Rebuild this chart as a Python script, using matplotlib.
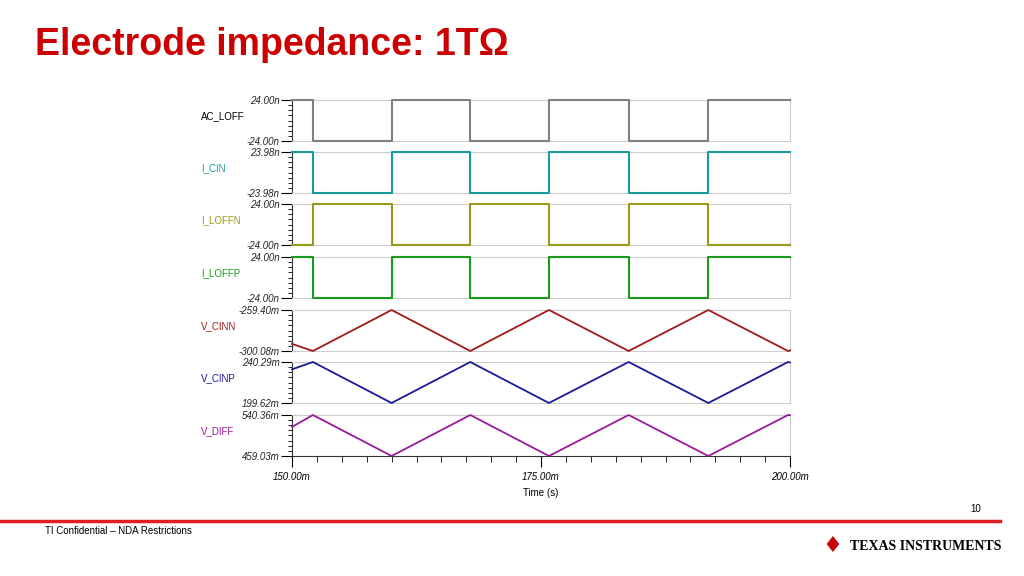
import matplotlib
matplotlib.use("Agg")
import matplotlib.pyplot as plt
import numpy as np

plt.rcParams['font.family'] = ['Liberation Sans', 'DejaVu Sans']

edges = [150.0, 152.1, 160.0, 167.9, 175.8, 183.8, 191.8, 199.8, 200.0]
names = ["AC_LOFF", "I_CIN", "I_LOFFN", "I_LOFFP", "V_CINN", "V_CINP", "V_DIFF"]
colors = ["#808080", "#1a9a9a", "#9a9a1a", "#1a9a1a", "#a01a1a", "#1a1a9a", "#9a1a9a"]
label_colors = ["#000000", "#1a9a9a", "#9a9a1a", "#1a9a1a", "#a01a1a", "#1a1a9a", "#9a1a9a"]
lows = [-24.00, -23.98, -24.00, -24.00, -300.08, 199.62, 459.03]
highs = [24.00, 23.98, 24.00, 24.00, -259.40, 240.29, 540.36]
tick_lo = ["-24.00n", "-23.98n", "-24.00n", "-24.00n", "-300.08m", "199.62m", "459.03m"]
tick_hi = ["24.00n", "23.98n", "24.00n", "24.00n", "-259.40m", "240.29m", "540.36m"]
sq_levels = {
    "AC_LOFF": [24, -24, 24, -24, 24, -24, 24, 24],
    "I_CIN": [23.98, -23.98, 23.98, -23.98, 23.98, -23.98, 23.98, 23.98],
    "I_LOFFN": [-24, 24, -24, 24, -24, 24, -24, -24],
    "I_LOFFP": [24, -24, 24, -24, 24, -24, 24, 24],
}
tri_vals = {
    "V_CINN": [-293.0, -300.08, -259.40, -300.08, -259.40, -300.08, -259.40, -300.08, -299.5],
    "V_CINP": [233.0, 240.29, 199.62, 240.29, 199.62, 240.29, 199.62, 240.29, 239.8],
    "V_DIFF": [516.7, 540.36, 459.03, 540.36, 459.03, 540.36, 459.03, 540.36, 540.0],
}
tops = [100, 152, 204, 257, 310, 362, 415]
H = 41

fig = plt.figure(figsize=(10.24, 5.76), dpi=100)
W, Hf = 1024, 576
x0, x1 = 292, 790
for i, n in enumerate(names):
    top = tops[i]
    ax = fig.add_axes([x0 / W, 1 - (top + H) / Hf, (x1 - x0) / W, H / Hf])
    if n in sq_levels:
        xs, ys = [], []
        lv = sq_levels[n]
        for k in range(len(edges) - 1):
            xs += [edges[k], edges[k + 1]]
            ys += [lv[k], lv[k]]
        ax.plot(xs, ys, color=colors[i], lw=1.5, clip_on=False, zorder=5)
    else:
        ax.plot(edges, tri_vals[n], color=colors[i], lw=1.3, clip_on=False, zorder=5)
    ax.set_xlim(150, 200)
    ax.set_ylim(lows[i], highs[i])
    for s in ["top", "right"]:
        ax.spines[s].set_color("#cccccc")
    ax.spines["left"].set_color("#333333")
    ax.set_yticks([lows[i], highs[i]])
    ax.set_yticklabels([tick_lo[i], tick_hi[i]], fontsize=7, style="italic", color="#222222")
    ax.set_yticks(np.linspace(lows[i], highs[i], 9)[1:-1], minor=True)
    ax.tick_params(axis="y", which="major", length=8, width=0.8, pad=1)
    ax.tick_params(axis="y", which="minor", length=3, width=0.6)
    if i < len(names) - 1:
        ax.spines["bottom"].set_color("#cccccc")
        ax.set_xticks([])
    else:
        ax.spines["bottom"].set_color("#333333")
        ax.set_xticks([150, 175, 200])
        ax.set_xticklabels(["150.00m", "175.00m", "200.00m"], fontsize=7, style="italic")
        ax.set_xticks(np.arange(152.5, 200, 2.5), minor=True)
        ax.tick_params(axis="x", which="major", length=8, width=0.8)
        ax.tick_params(axis="x", which="minor", length=4, width=0.6)
        ax.set_xlabel("Time (s)", fontsize=7, labelpad=4)
    fig.text(201 / W, 1 - (top + 16) / Hf, n, fontsize=7, color=label_colors[i], va="center")

fig.text(35 / W, 1 - 45 / Hf, "Electrode impedance: 1TΩ", fontsize=27, fontweight="bold",
         color="#cc0000", va="center")
fig.add_artist(plt.Line2D([0, 1000 / W], [1 - 521 / Hf] * 2, color="#e02020", lw=2.5))
fig.text(970 / W, 1 - 509 / Hf, "10", fontsize=7, va="center")
fig.text(45 / W, 1 - 531 / Hf, "TI Confidential – NDA Restrictions", fontsize=7, va="center")
fig.text(850 / W, 1 - 547 / Hf, "TEXAS INSTRUMENTS", fontsize=10, fontweight="bold",
         family="Liberation Serif", va="center")
fig.text(822 / W, 1 - 546 / Hf, "♦", fontsize=16, color="#cc0000", va="center",
         family="DejaVu Sans")
fig.savefig("out.png", dpi=100)
